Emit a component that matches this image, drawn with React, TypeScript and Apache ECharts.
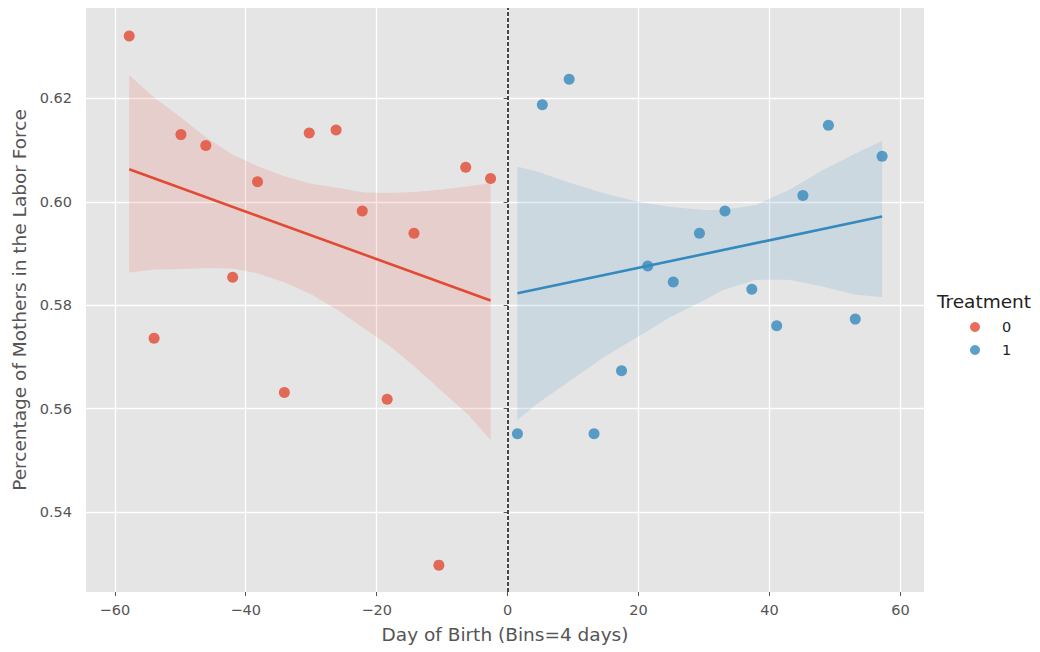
import React, { useEffect, useRef } from "react";
import * as echarts from "echarts";

const FONT = "'DejaVu Sans', sans-serif";
const RED = "#E24A33";
const BLUE = "#348ABD";

// Scatter data (bins of 4 days)
const controlX = [-57.8, -54.0, -49.9, -46.1, -42.0, -38.2, -34.1, -30.3, -26.2, -22.2, -18.4, -14.3, -10.5, -6.4, -2.6];
const controlY = [0.6321, 0.5736, 0.613, 0.6109, 0.5854, 0.6039, 0.5631, 0.6133, 0.6139, 0.5982, 0.5618, 0.5939, 0.5297, 0.6067, 0.6045];
const treatX = [1.5, 5.3, 9.4, 13.2, 17.4, 21.4, 25.3, 29.3, 33.2, 37.3, 41.1, 45.1, 49.0, 53.1, 57.2];
const treatY = [0.5551, 0.6188, 0.6237, 0.5551, 0.5673, 0.5876, 0.5845, 0.5939, 0.5982, 0.5831, 0.576, 0.6012, 0.6148, 0.5773, 0.6088];

// Confidence bands
const controlBandX = [-57.8, -54, -50, -46, -42, -38, -34, -30, -26, -22, -18, -14, -10, -6, -2.6];
const controlBandUpper = [0.6245, 0.6202, 0.6164, 0.6124, 0.6091, 0.6068, 0.6049, 0.6035, 0.6027, 0.6018, 0.6017, 0.6019, 0.6024, 0.603, 0.6036];
const controlBandLower = [0.5863, 0.5869, 0.587, 0.5872, 0.5871, 0.5861, 0.5844, 0.5821, 0.5791, 0.5756, 0.5721, 0.5679, 0.5633, 0.5588, 0.5539];
const treatBandX = [1.5, 4.6, 9.7, 14.8, 19.9, 25.0, 30.1, 32.8, 37.9, 43.0, 48.1, 53.2, 57.2];
const treatBandUpper = [0.6068, 0.6058, 0.6036, 0.6016, 0.6, 0.599, 0.5984, 0.5984, 0.5994, 0.6023, 0.6061, 0.6094, 0.6118];
const treatBandLower = [0.5578, 0.561, 0.5655, 0.57, 0.5739, 0.5778, 0.581, 0.5829, 0.5849, 0.5849, 0.5836, 0.582, 0.5816];

const xTicks = [-60, -40, -20, 0, 20, 40, 60];
const yTicks = [0.54, 0.56, 0.58, 0.6, 0.62];
const groups = ["0", "1"];
const cutoff = 0;

function zip(xs: number[], ys: number[]) {
  return xs.map((x, i) => [x, ys[i]]);
}

function olsLine(xs: number[], ys: number[]) {
  const n = xs.length;
  const mx = xs.reduce((a, b) => a + b, 0) / n;
  const my = ys.reduce((a, b) => a + b, 0) / n;
  let sxy = 0;
  let sxx = 0;
  for (let i = 0; i < n; i++) {
    sxy += (xs[i] - mx) * (ys[i] - my);
    sxx += (xs[i] - mx) * (xs[i] - mx);
  }
  const b = sxy / sxx;
  const a = my - b * mx;
  const x0 = Math.min(...xs);
  const x1 = Math.max(...xs);
  return [
    [x0, a + b * x0],
    [x1, a + b * x1],
  ];
}

function bandSeries(xs: number[], up: number[], lo: number[], color: string) {
  return {
    type: "custom",
    silent: true,
    z: 1,
    data: [[xs[0], up[0]]],
    renderItem: (_params: any, api: any) => {
      const pts: number[][] = [];
      for (let i = 0; i < xs.length; i++) pts.push(api.coord([xs[i], up[i]]));
      for (let i = xs.length - 1; i >= 0; i--) pts.push(api.coord([xs[i], lo[i]]));
      return {
        type: "polygon",
        shape: { points: pts },
        style: { fill: color, opacity: 0.15 },
      };
    },
  };
}

export default function App() {
  const ref = useRef<HTMLDivElement>(null);

  useEffect(() => {
    if (!ref.current) return;
    const chart = echarts.init(ref.current, null, { renderer: "svg" });
    const fmtX = (v: number) => (v < 0 ? "\u2212" + Math.abs(v) : String(v));
    chart.setOption({
      animation: false,
      backgroundColor: "#ffffff",
      textStyle: { fontFamily: FONT },
      grid: {
        left: 86,
        right: 116,
        top: 8,
        bottom: 60,
        show: true,
        backgroundColor: "#E5E5E5",
        borderWidth: 0,
        containLabel: false,
        outerBoundsMode: "none",
      },
      xAxis: {
        type: "value",
        min: -64.4,
        max: 63.6,
        axisLine: { show: false },
        axisTick: { show: true, customValues: xTicks, length: 4, lineStyle: { color: "#555555" } },
        axisLabel: {
          customValues: xTicks,
          formatter: fmtX,
          color: "#555555",
          fontSize: 14.5,
          fontFamily: FONT,
          margin: 10,
        },
        splitLine: { show: true, lineStyle: { color: "#ffffff", width: 1.3 } },
        name: "Day of Birth (Bins=4 days)",
        nameLocation: "middle",
        nameGap: 33,
        nameTextStyle: { color: "#555555", fontSize: 18.5, fontFamily: FONT },
      },
      yAxis: {
        type: "value",
        min: 0.5245,
        max: 0.6375,
        axisLine: { show: false },
        axisTick: { show: true, customValues: yTicks, length: 4, lineStyle: { color: "#555555" } },
        axisLabel: {
          customValues: yTicks,
          formatter: (v: number) => v.toFixed(2),
          color: "#555555",
          fontSize: 14.5,
          fontFamily: FONT,
          margin: 14,
        },
        splitLine: { show: true, lineStyle: { color: "#ffffff", width: 1.3 } },
        name: "Percentage of Mothers in the Labor Force",
        nameLocation: "middle",
        nameGap: 54,
        nameTextStyle: { color: "#555555", fontSize: 18.5, fontFamily: FONT },
      },
      legend: {
        data: groups,
        orient: "vertical",
        left: 970,
        top: 319,
        padding: 0,
        itemWidth: 10,
        itemHeight: 10,
        itemGap: 7,
        icon: "circle",
        textStyle: {
          fontSize: 14.5,
          color: "#222222",
          fontFamily: FONT,
          lineHeight: 16,
          padding: [0, 0, 0, 17],
        },
      },
      graphic: [
        {
          type: "text",
          x: 984,
          y: 301,
          style: {
            text: "Treatment",
            align: "center",
            verticalAlign: "middle",
            fontSize: 18.5,
            fontFamily: FONT,
            fill: "#222222",
          },
        },
      ],
      series: [
        bandSeries(controlBandX, controlBandUpper, controlBandLower, RED),
        bandSeries(treatBandX, treatBandUpper, treatBandLower, BLUE),
        {
          type: "line",
          data: olsLine(controlX, controlY),
          symbol: "none",
          silent: true,
          z: 3,
          lineStyle: { color: RED, width: 2.6 },
        },
        {
          type: "line",
          data: olsLine(treatX, treatY),
          symbol: "none",
          silent: true,
          z: 3,
          lineStyle: { color: BLUE, width: 2.6 },
        },
        {
          name: groups[0],
          type: "scatter",
          data: zip(controlX, controlY),
          symbolSize: 11,
          z: 4,
          itemStyle: { color: RED, opacity: 0.8 },
          markLine: {
            silent: true,
            symbol: ["none", "none"],
            label: { show: false },
            lineStyle: { color: "#333333", width: 1.8, type: [4, 2] },
            data: [{ xAxis: cutoff }],
          },
        },
        {
          name: groups[1],
          type: "scatter",
          data: zip(treatX, treatY),
          symbolSize: 11,
          z: 4,
          itemStyle: { color: BLUE, opacity: 0.8 },
        },
      ],
    });
    return () => chart.dispose();
  }, []);

  return (
    <div
      ref={ref}
      style={{ position: "fixed", left: 0, top: 0, width: 1040, height: 652 }}
    />
  );
}
